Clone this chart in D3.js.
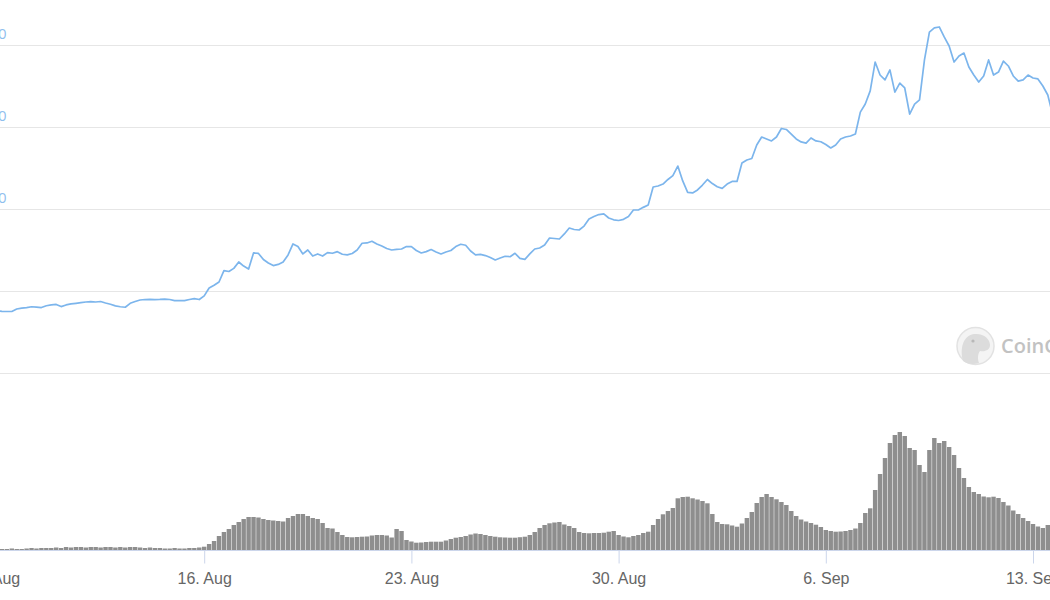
<!DOCTYPE html>
<html>
<head>
<meta charset="utf-8">
<script src="https://cdn.jsdelivr.net/npm/d3@7/dist/d3.min.js"></script>
<style>
  html, body { margin: 0; padding: 0; background: #fff; }
  svg { display: block; font-family: "Open Sans", "Noto Sans", sans-serif; }
  .grid line { stroke: #e6e6e6; stroke-width: 1; }
  .x.axis path, .x.axis line { stroke: #ccd6eb; }
  .x.axis text { fill: #666666; font-size: 16px; }
  .y.label { fill: #8fbfee; font-size: 15px; }
</style>
</head>
<body>
<div id="chart"></div>
<script>
// 4-hourly samples starting 9 Aug 2021 00:00 UTC
var startTime = Date.UTC(2021, 7, 9);
var stepHours = 4;

var priceValues = [
  378,376,375,375,390,396,399,404,402,399,
  410,415,418,405,415,421,425,429,433,435,
  433,436,427,419,409,404,401,425,436,445,
  448,449,448,449,451,448,441,441,441,448,
  454,448,470,518,535,555,624,619,638,677,
  652,634,732,729,692,671,655,662,677,720,
  787,771,726,750,713,726,713,734,730,740,
  724,720,729,750,791,793,803,787,774,759,
  750,754,756,771,771,747,732,740,753,738,
  726,738,747,771,785,779,744,720,723,716,
  704,689,701,712,709,730,699,693,726,756,
  762,780,823,820,817,848,884,875,872,896,
  939,954,966,970,945,934,930,937,954,994,
  994,1010,1024,1134,1140,1152,1180,1204,1262,1171,
  1101,1098,1116,1146,1180,1155,1136,1126,1152,1168,
  1168,1280,1299,1308,1390,1439,1427,1415,1439,1491,
  1485,1457,1427,1409,1402,1433,1415,1410,1393,1372,
  1390,1427,1439,1445,1457,1591,1640,1720,1896,1817,
  1787,1848,1713,1768,1738,1579,1640,1665,1909,2079,
  2104,2110,2049,1994,1896,1933,1951,1866,1817,1774,
  1811,1909,1817,1835,1902,1872,1811,1780,1787,1817,
  1799,1793,1750,1695,1573,1543,1555
];

// volume in millions
var volumeValues = [
  1,1,1,1.5,1,1,1.5,2,1.5,2,
  2,2,2.5,2,3,2.5,3,3,2.5,3,
  3,2.5,3,3,2.5,3,2.5,3,3,2.5,
  2,2.5,2,2,1.5,1.5,2,1.5,1.5,2,
  2,2.5,3.3,6,9,14,18,21,25,28,
  31,33,33,32.5,31,30,29.5,29,28.5,32,
  34,36,36,34,32,31,27,22,21.5,18,
  15,13,12.7,13,13.3,13.5,14.5,15,15,14.5,
  12.5,21,19,10,8.5,7.3,7.5,8,8.3,8.3,
  8.3,9.5,11,12.3,13,14,15.5,16.5,16,15,
  14,13.3,12.7,12.5,12.3,12.3,12.8,13.3,15,18,
  22,25,26.7,27.5,28,25.5,24,22,18,17,
  16.7,17,17,17.3,18.3,19,15,13.5,12.7,14,
  15,17,18.3,25,31,35.7,39,42,51.7,53,
  53.3,51.7,50.5,49,46.7,36,28,26,25.7,24.5,
  23.3,26.5,32,38,47,53,56,53,50.7,48,
  45,39,34,30.5,28.5,27,25.3,23,20,19,
  18.3,18.5,19,20,21.5,27,37,41.7,60,76,
  92,107,115,118,114,102,100,85,78,100,
  112,107,109,103,95,82,72,63,58,56,
  53.5,52.7,53.3,52,48,44.5,39.5,36,32,29,
  26,23.5,22,25,27,26,25
];

var priceGrid = [0, 500, 1000, 1500, 2000];
var priceLabels = [500, 1000, 1500, 2000];
var dateTicks = ["2021-08-09", "2021-08-16", "2021-08-23", "2021-08-30", "2021-09-06", "2021-09-13"];

var width = 1050, height = 600;

var data = priceValues.map(function(p, i) {
  return { t: new Date(startTime + i * stepHours * 3600 * 1000), price: p, volume: volumeValues[i] };
});

var svg = d3.select('#chart')
  .append('svg')
  .attr('width', width)
  .attr('height', height);

var x = d3.scaleUtc()
  .domain([new Date(Date.UTC(2021, 7, 9)), new Date(Date.UTC(2021, 8, 13))])
  .range([-3, 1033]);

var y = d3.scaleLinear()
  .domain([0, 2000])
  .range([373, 45]);

var yVol = d3.scaleLinear()
  .domain([0, 170])
  .range([550, 380]);

// horizontal gridlines of the price pane
svg.append('g')
  .attr('class', 'grid')
  .selectAll('line')
  .data(priceGrid)
  .enter()
  .append('line')
  .attr('x1', 0).attr('x2', width)
  .attr('y1', function(d) { return Math.round(y(d)) + 0.5; })
  .attr('y2', function(d) { return Math.round(y(d)) + 0.5; });

// labels are left aligned, so only their last digit peeks into view
svg.append('g')
  .selectAll('text')
  .data(priceLabels)
  .enter()
  .append('text')
  .attr('class', 'y label')
  .attr('x', -31.5)
  .attr('y', function(d) { return y(d) - 6; })
  .attr('text-anchor', 'start')
  .text(function(d) { return d3.format(',')(d); });

// watermark
var wm = svg.append('g').attr('class', 'watermark');
wm.append('circle')
  .attr('cx', 975.5).attr('cy', 346).attr('r', 18.5)
  .attr('fill', '#f4f4f4')
  .attr('stroke', '#e2e2e2')
  .attr('stroke-width', 1.5);
wm.append('path')
  .attr('d', 'M963,361 C960,350 962,336 974,334 C984,333 990,339 990,345 C990,350 985,352 980,351 C977,355 978,360 979,363 C973,365 967,364 963,361 Z')
  .attr('fill', '#dcdcdc');
wm.append('circle')
  .attr('cx', 973).attr('cy', 341).attr('r', 1.6)
  .attr('fill', '#b8b8b8');
wm.append('text')
  .attr('x', 1001).attr('y', 353)
  .attr('fill', '#c2c2c2')
  .style('font-size', '20px')
  .style('font-weight', 600)
  .text('CoinGecko');

// volume columns
var barW = x(new Date(startTime + stepHours * 3600 * 1000)) - x(new Date(startTime));
svg.append('g')
  .selectAll('rect')
  .data(data)
  .enter()
  .append('rect')
  .attr('x', function(d) { return x(d.t) - barW / 2 + 0.25; })
  .attr('width', barW - 0.5)
  .attr('y', function(d) { return yVol(d.volume); })
  .attr('height', function(d) { return yVol(0) - yVol(d.volume); })
  .attr('fill', '#8e8e8e');

// price line
var line = d3.line()
  .x(function(d) { return x(d.t); })
  .y(function(d) { return y(d.price); });

svg.append('path')
  .datum(data)
  .attr('d', line)
  .attr('fill', 'none')
  .attr('stroke', '#7cb5ec')
  .attr('stroke-width', 1.7)
  .attr('stroke-linejoin', 'round');

// date axis under the volume pane
var xAxis = d3.axisBottom(x)
  .tickValues(dateTicks.map(function(s) { return new Date(s + 'T00:00:00Z'); }))
  .tickFormat(d3.utcFormat('%-d. %b'))
  .tickSize(13)
  .tickPadding(9);

var gx = svg.append('g')
  .attr('class', 'x axis')
  .attr('transform', 'translate(0,550.5)')
  .call(xAxis);
gx.select('.domain').attr('d', 'M0,0H' + width);
</script>
</body>
</html>
